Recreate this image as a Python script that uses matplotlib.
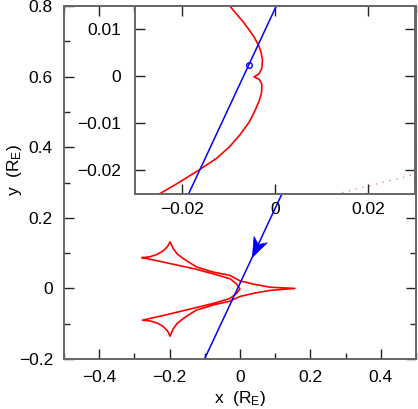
import matplotlib
matplotlib.use("Agg")
import matplotlib.pyplot as plt
from matplotlib.markers import MarkerStyle
from matplotlib.path import Path
from matplotlib.transforms import Affine2D

plt.rcParams['font.family'] = ['Liberation Sans', 'DejaVu Sans']
plt.rcParams['mathtext.default'] = 'regular'
plt.rcParams['font.size'] = 12.5

# caustic (main panel), one closed path through the cusps
caustic_x = [-0.2772, -0.2553, -0.2355, -0.2184, -0.2057, -0.1986,
             -0.1901, -0.1787, -0.1609, -0.1418, -0.1228, -0.0757, -0.0284, 0.0, 0.0426, 0.0851, 0.1560,
             0.0851, 0.0426, 0.0, -0.0284, -0.0757, -0.1228, -0.1418, -0.1609, -0.1787, -0.1901, -0.1986,
             -0.2057, -0.2184, -0.2355, -0.2553, -0.2772,
             -0.2176, -0.1228, -0.0709, -0.0284, -0.0099, 0.0, -0.0099, -0.0284, -0.0709, -0.1228, -0.2176, -0.2772]
caustic_y = [0.0871, 0.0899, 0.0965, 0.1064, 0.1191, 0.1319,
             0.1135, 0.0979, 0.0843, 0.0723, 0.0604, 0.0462, 0.0369, 0.0213, 0.0113, 0.0034, 0.0,
             -0.0057, -0.0130, -0.0227, -0.0360, -0.0468, -0.0610, -0.0723, -0.0851, -0.0993, -0.1149, -0.1353,
             -0.1206, -0.1078, -0.0979, -0.0922, -0.0899,
             -0.0766, -0.0539, -0.0411, -0.0284, -0.0142, -0.0014, 0.0128, 0.0275, 0.0397, 0.0539, 0.0746, 0.0871]

# caustic, zoomed (inset)
zoom_cx = [-0.0248, -0.0205, -0.0163, -0.0125, -0.0098, -0.0075, -0.0056, -0.0044, -0.0034, -0.0029,
           -0.0028, -0.0034, -0.0045,
           -0.0034, -0.0028, -0.0027, -0.0030, -0.0035, -0.0045, -0.0056, -0.0068, -0.0080, -0.0098]
zoom_cy = [-0.0250, -0.0225, -0.0199, -0.0174, -0.0150, -0.0124, -0.0098, -0.0075, -0.0052, -0.0035,
           -0.0017, -0.0006, -0.0001,
           0.0006, 0.0018, 0.0036, 0.0052, 0.0066, 0.0084, 0.0100, 0.0116, 0.0130, 0.0151]
faint_x = [0.0144, 0.0297]
faint_y = [-0.0247, -0.0209]

# source trajectory
traj_x = [-0.1008, 0.3693]
traj_y = [-0.2, 0.8]
src_x, src_y = -0.0056, 0.0025
arrow_x, arrow_y = 0.0465, 0.114
arrow_angle = 244.8

main_xticks = [-0.4, -0.2, 0, 0.2, 0.4]
main_xlabels = ['\u22120.4', '\u22120.2', '0', '0.2', '0.4']
main_yticks = [-0.2, 0, 0.2, 0.4, 0.6, 0.8]
main_ylabels = ['\u22120.2', '0', '0.2', '0.4', '0.6', '0.8']
zoom_xticks = [-0.02, 0, 0.02]
zoom_xlabels = ['\u22120.02', '0', '0.02']
zoom_yticks = [-0.02, -0.01, 0, 0.01]
zoom_ylabels = ['\u22120.02', '\u22120.01', '0', '0.01']

fig = plt.figure(figsize=(4.18, 4.09), dpi=100)
ax = fig.add_axes([0.1531, 0.1222, 0.8421, 0.8631])
ins = fig.add_axes([0.3230, 0.5257, 0.6699, 0.4597])

spine_col = '#666666'

# notched arrowhead, pointing along +x before rotation
head = Path([(1, 0), (-1, 0.75), (-0.45, 0), (-1, -0.75), (1, 0)],
            [Path.MOVETO, Path.LINETO, Path.LINETO, Path.LINETO, Path.CLOSEPOLY])
head_marker = MarkerStyle(head, transform=Affine2D().rotate_deg(arrow_angle))

# main panel
ax.plot(caustic_x, caustic_y, color='red', lw=1.2)
ax.plot(traj_x, traj_y, color='blue', lw=1.1)
ax.plot([arrow_x], [arrow_y], marker=head_marker, color='blue', ms=14, mew=0.5)
ax.set_xlim(-0.5, 0.5)
ax.set_ylim(-0.2, 0.8)
ax.set_xticks(main_xticks, main_xlabels)
ax.set_yticks(main_yticks, main_ylabels)
ax.set_xticks([-0.5, -0.3, -0.1, 0.1, 0.3, 0.5], minor=True)
ax.set_yticks([-0.1, 0.1, 0.3, 0.5, 0.7], minor=True)
ax.tick_params(which='both', direction='in', top=True, right=True, colors='#222222', width=1.0)
ax.tick_params(which='major', length=7.5, pad=8)
ax.tick_params(which='minor', length=4)
ax.set_xlabel('x  (R$_E$)', labelpad=3)
ax.set_ylabel('y  (R$_E$)')
ax.yaxis.set_label_coords(-0.115, 0.535)

# inset
ins.plot(zoom_cx, zoom_cy, color='red', lw=1.2)
ins.plot(faint_x, faint_y, color='#ff8080', lw=1.0, ls=(0, (1, 4)))
ins.plot(traj_x, traj_y, color='blue', lw=1.1)
ins.plot([src_x], [src_y], 'o', mfc='none', mec='blue', ms=4, mew=1.0)
ins.set_xlim(-0.03, 0.03)
ins.set_ylim(-0.025, 0.015)
ins.set_xticks(zoom_xticks, zoom_xlabels)
ins.set_yticks(zoom_yticks, zoom_ylabels)
ins.tick_params(direction='in', top=True, right=True, colors='#222222', width=1.0,
                length=7.5, pad=6)
ins.tick_params(axis='y', pad=10)

for a in (ax, ins):
    for s in a.spines.values():
        s.set_color(spine_col)
        s.set_linewidth(1.4)
    a.tick_params(labelcolor='black')

fig.savefig('out.png', dpi=100)
